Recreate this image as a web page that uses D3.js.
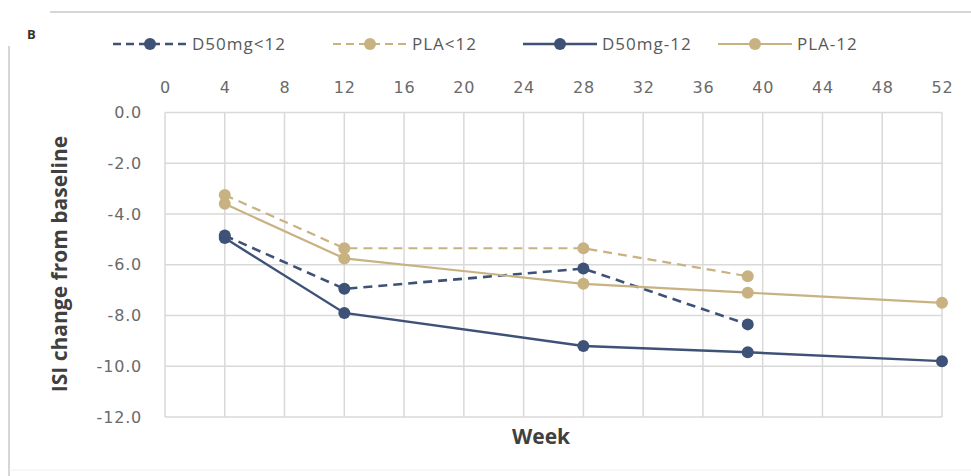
<!DOCTYPE html>
<html>
<head>
<meta charset="utf-8">
<script src="https://cdn.jsdelivr.net/npm/d3@7"></script>
<style>
  html, body { margin: 0; padding: 0; background: #fff; }
  svg { display: block; }
</style>
</head>
<body>
<script>
const weekTicks = [0, 4, 8, 12, 16, 20, 24, 28, 32, 36, 40, 44, 48, 52];
const yTicks = [0, -2, -4, -6, -8, -10, -12];

const weeksShort = [4, 12, 28, 39];
const weeksLong = [4, 12, 28, 39, 52];

const d50Under12 = [-4.85, -6.95, -6.15, -8.35];
const plaUnder12 = [-3.25, -5.35, -5.35, -6.45];
const d50Over12 = [-4.95, -7.9, -9.2, -9.45, -9.8];
const plaOver12 = [-3.6, -5.75, -6.75, -7.1, -7.5];

const seriesNames = ["D50mg<12", "PLA<12", "D50mg-12", "PLA-12"];

const navy = "#3e5277";
const tan = "#c9b282";

const series = [
  { name: seriesNames[0], weeks: weeksShort, values: d50Under12, color: navy, dash: "9,6", lw: 2.6 },
  { name: seriesNames[1], weeks: weeksShort, values: plaUnder12, color: tan, dash: "9,6", lw: 2.2 },
  { name: seriesNames[2], weeks: weeksLong, values: d50Over12, color: navy, dash: null, lw: 2.4 },
  { name: seriesNames[3], weeks: weeksLong, values: plaOver12, color: tan, dash: null, lw: 2.2 },
];

const width = 971;
const height = 476;

const x = d3.scaleLinear().domain([0, 52]).range([165, 942]);
const y = d3.scaleLinear().domain([-12, 0]).range([417, 112.5]);

const svg = d3
  .select("body")
  .append("svg")
  .attr("width", width)
  .attr("height", height);

// panel frame bits
svg
  .append("line")
  .attr("x1", 50)
  .attr("x2", width)
  .attr("y1", 12)
  .attr("y2", 12)
  .attr("stroke", "#d6d6d6")
  .attr("stroke-width", 2);

svg
  .append("line")
  .attr("x1", 9)
  .attr("x2", 9)
  .attr("y1", 46)
  .attr("y2", height)
  .attr("stroke", "#d6d6d6")
  .attr("stroke-width", 2);

svg
  .append("line")
  .attr("x1", 9)
  .attr("x2", width)
  .attr("y1", 470)
  .attr("y2", 470)
  .attr("stroke", "#f0f0f0")
  .attr("stroke-width", 1);

svg
  .append("text")
  .attr("x", 27)
  .attr("y", 39)
  .attr("font-family", "Open Sans, sans-serif")
  .attr("font-size", 13)
  .attr("font-weight", 700)
  .attr("fill", "#333")
  .text("B");

// grid
const grid = svg.append("g");

grid
  .selectAll("line.v")
  .data(weekTicks)
  .enter()
  .append("line")
  .attr("class", "v")
  .attr("x1", (d) => x(d))
  .attr("x2", (d) => x(d))
  .attr("y1", y(0))
  .attr("y2", y(-12))
  .attr("stroke", "#d9d9d9")
  .attr("stroke-width", 1.5);

grid
  .selectAll("line.h")
  .data(yTicks)
  .enter()
  .append("line")
  .attr("class", "h")
  .attr("x1", x(0))
  .attr("x2", x(52))
  .attr("y1", (d) => y(d))
  .attr("y2", (d) => y(d))
  .attr("stroke", "#d9d9d9")
  .attr("stroke-width", 1.5);

// axes
const xAxis = d3
  .axisTop(x)
  .tickValues(weekTicks)
  .tickSize(0)
  .tickPadding(20)
  .tickFormat((d) => d);

const yAxis = d3
  .axisLeft(y)
  .tickValues(yTicks)
  .tickSize(0)
  .tickPadding(23)
  .tickFormat((d) => (d === 0 ? "0.0" : d.toFixed(1)));

const xg = svg
  .append("g")
  .attr("transform", `translate(0 ${y(0)})`)
  .call(xAxis);

const yg = svg
  .append("g")
  .attr("transform", `translate(${x(0)} 0)`)
  .call(yAxis);

[xg, yg].forEach((g) => {
  g.select(".domain").remove();
  g.selectAll("text")
    .attr("font-family", "DejaVu Sans, sans-serif")
    .attr("font-size", 16)
    .attr("letter-spacing", 0.8)
    .attr("fill", "#6a6a6a");
});

// axis titles
svg
  .append("text")
  .attr("transform", `translate(67 ${264}) rotate(-90)`)
  .attr("text-anchor", "middle")
  .attr("font-family", "Open Sans, sans-serif")
  .attr("font-size", 21)
  .attr("font-weight", 700)
  .attr("fill", "#404040")
  .text("ISI change from baseline");

svg
  .append("text")
  .attr("x", 541)
  .attr("y", 444)
  .attr("text-anchor", "middle")
  .attr("font-family", "Open Sans, sans-serif")
  .attr("font-size", 21)
  .attr("font-weight", 700)
  .attr("fill", "#404040")
  .text("Week");

// series
const line = d3
  .line()
  .x((d) => x(d[0]))
  .y((d) => y(d[1]));

const dataGroup = svg.append("g");

series.forEach((s) => {
  const pts = s.weeks.map((w, i) => [w, s.values[i]]);

  dataGroup
    .append("path")
    .attr("d", line(pts))
    .attr("fill", "none")
    .attr("stroke", s.color)
    .attr("stroke-width", s.lw)
    .attr("stroke-dasharray", s.dash);

  dataGroup
    .selectAll(null)
    .data(pts)
    .enter()
    .append("circle")
    .attr("cx", (d) => x(d[0]))
    .attr("cy", (d) => y(d[1]))
    .attr("r", 6)
    .attr("fill", s.color);
});

// legend
const legendX = [113, 333, 523, 718];

const legend = svg
  .selectAll("g.legend")
  .data(series)
  .enter()
  .append("g")
  .attr("class", "legend")
  .attr("transform", (d, i) => `translate(${legendX[i]} 44)`);

legend
  .append("line")
  .attr("x1", 0)
  .attr("x2", 74)
  .attr("stroke", (d) => d.color)
  .attr("stroke-width", (d) => d.lw)
  .attr("stroke-dasharray", (d) => (d.dash ? "8,5" : null));

legend
  .append("circle")
  .attr("cx", 37)
  .attr("r", 6)
  .attr("fill", (d) => d.color);

legend
  .append("text")
  .attr("x", 79)
  .attr("y", 6)
  .attr("font-family", "Open Sans, sans-serif")
  .attr("font-size", 17)
  .attr("letter-spacing", 1)
  .attr("fill", "#595959")
  .text((d) => d.name);
</script>
</body>
</html>
